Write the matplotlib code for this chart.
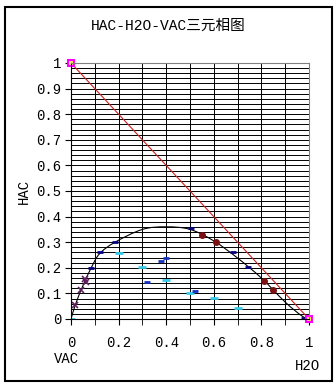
import numpy as np
import matplotlib.pyplot as plt
from matplotlib.patches import Rectangle, PathPatch
from matplotlib.path import Path

plt.rcParams['font.family'] = ['Liberation Mono', 'Noto Sans CJK SC']

# 溶解度曲线
curve_x = [0, 0.02, 0.05, 0.085, 0.12, 0.185, 0.3, 0.4, 0.5, 0.6, 0.7, 0.8, 0.9, 0.97, 1.0]
curve_y = [0, 0.06, 0.13, 0.2, 0.255, 0.30, 0.35, 0.36, 0.35, 0.305, 0.238, 0.16, 0.066, 0.012, 0]

# 实验点
navy_x = [0.084, 0.12, 0.185, 0.505, 0.68, 0.745, 0.98]
navy_y = [0.2, 0.26, 0.30, 0.355, 0.26, 0.205, 0.005]
red_x = [0.55, 0.61, 0.81, 0.85]
red_y = [0.33, 0.30, 0.148, 0.113]
purple_x = [0.017, 0.042, 0.059, 0.062]
purple_y = [0.055, 0.113, 0.156, 0.145]
# 连接线两端
tie_a_x = [0.2, 0.30, 0.40, 0.50, 0.60, 0.70, 0.0]
tie_a_y = [0.257, 0.204, 0.152, 0.103, 0.083, 0.044, 0.0]
tie_b_x = [0.38, 0.40, 0.32, 0.52]
tie_b_y = [0.226, 0.238, 0.146, 0.11]
# 纯组分
pure_x = [0, 1]
pure_y = [1, 0]


def smooth_path(xs, ys):
    # Catmull-Rom 平滑曲线, 转成三次贝塞尔
    p = np.column_stack([xs, ys])
    verts = [p[0]]
    codes = [Path.MOVETO]
    for i in range(len(p) - 1):
        p0 = p[i - 1] if i > 0 else p[i]
        p3 = p[i + 2] if i + 2 < len(p) else p[i + 1]
        c1 = p[i] + (p[i + 1] - p0) / 6
        c2 = p[i + 1] - (p3 - p[i]) / 6
        verts += [c1, c2, p[i + 1]]
        codes += [Path.CURVE4] * 3
    return Path(verts, codes)


fig = plt.figure(figsize=(3.36, 3.85), dpi=100)
fig.patches.append(Rectangle((4.5 / 336, 4 / 385), 327 / 336, 374 / 385,
                             transform=fig.transFigure, fill=False,
                             edgecolor='black', linewidth=1.5))
ax = fig.add_axes([71 / 336, 66 / 385, 238 / 336, 256 / 385])

ax.set_xlim(0, 1)
ax.set_ylim(0, 1)
ax.set_xticks(np.arange(0, 1.01, 0.2))
ax.set_xticks(np.arange(0, 1.01, 0.1), minor=True)
ax.set_yticks(np.arange(0, 1.01, 0.1))
ax.set_yticks(np.arange(0, 1.01, 0.02), minor=True)
ax.set_xticklabels(['0', '0.2', '0.4', '0.6', '0.8', '1'])
ax.set_yticklabels(['0', '0.1', '0.2', '0.3', '0.4', '0.5', '0.6', '0.7', '0.8', '0.9', '1'])
ax.tick_params(axis='both', which='major', direction='out', length=4, labelsize=10, pad=3)
ax.tick_params(axis='x', which='major', pad=8)
ax.tick_params(axis='x', which='minor', direction='out', length=4)
ax.tick_params(axis='y', which='minor', length=0)
ax.grid(True, which='both', color='black', linewidth=0.7)
ax.set_axisbelow(True)
for s in ['top', 'right']:
    ax.spines[s].set_color('#808080')

ax.add_patch(PathPatch(smooth_path(curve_x, curve_y), fill=False,
                       edgecolor='black', linewidth=0.8))
ax.plot(pure_x, pure_y, color='#d02020', linewidth=0.8)

ax.plot(navy_x, navy_y, ls='none', marker='_', color='#000080', ms=5, mew=2)
ax.plot(red_x, red_y, ls='none', marker='o', color='#7a1010', ms=4)
ax.plot(purple_x, purple_y, ls='none', marker='x', color='#602060', ms=4, mew=1.2)
ax.plot(tie_a_x, tie_a_y, ls='none', marker='_', color='#33ccee', ms=6, mew=2)
ax.plot(tie_b_x, tie_b_y, ls='none', marker='_', color='#1030c0', ms=5, mew=2)
ax.plot(pure_x, pure_y, ls='none', marker='s', color='#ffee66', mec='#ff00ff', mew=1.5, ms=5, clip_on=False)

ax.set_ylabel('HAC', fontsize=10, labelpad=4)
fig.text(168 / 336, 1 - 26 / 385, 'HAC-H2O-VAC三元相图', ha='center', va='center', fontsize=10.5)
fig.text(66 / 336, 1 - 359 / 385, 'VAC', ha='center', va='center', fontsize=10)
fig.text(307 / 336, 1 - 366 / 385, 'H2O', ha='center', va='center', fontsize=10)

fig.savefig('out.png', dpi=100)
